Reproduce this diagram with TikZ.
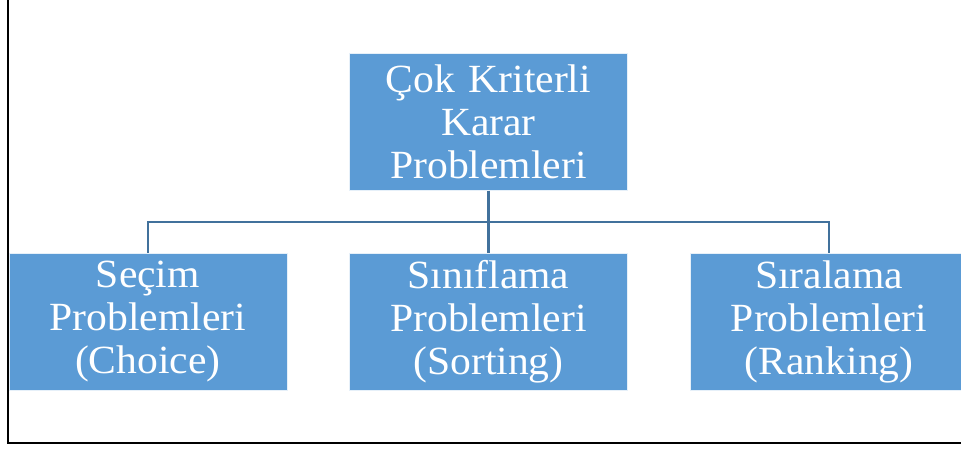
\documentclass[tikz,border=0pt]{standalone}
\usepackage{fontspec}
\setmainfont{Liberation Serif}[FakeStretch=1.04]
\usetikzlibrary{positioning}
\definecolor{boxblue}{HTML}{5B9BD5}
\definecolor{linkblue}{HTML}{41719C}
\begin{document}
\begin{tikzpicture}[
  x=1pt,y=1pt,
  box/.style={fill=boxblue,draw=white!85!boxblue,line width=0.6pt,minimum width=278pt,
    minimum height=137pt,inner sep=0pt,text width=278pt,align=center,text=white,
    font=\fontsize{40}{43}\selectfont},
  link/.style={draw=linkblue,line width=2.2pt},
  frame/.style={draw=black,line width=2pt},
]
\useasboundingbox (0,0) rectangle (961,450);
\draw[frame] (8,451)--(8,7)--(962,7);
\node[box] (top) at (488.5,328) {Çok Kriterli\\Karar\\Problemleri};
\node[box] (mid) at (488.5,128.5) {Sınıflama\\Problemleri\\(Sorting)};
\node[box,left=62pt of mid] (choice) {Seçim\\Problemleri\\(Choice)};
\node[box,right=62pt of mid] (rank) {Sıralama\\Problemleri\\(Ranking)};
\draw[link] (top.south)--(mid.north);
\draw[link] (top.south)--++(0,-31)-|(choice.north);
\draw[link] (top.south)--++(0,-31)-|(rank.north);
\end{tikzpicture}
\end{document}
